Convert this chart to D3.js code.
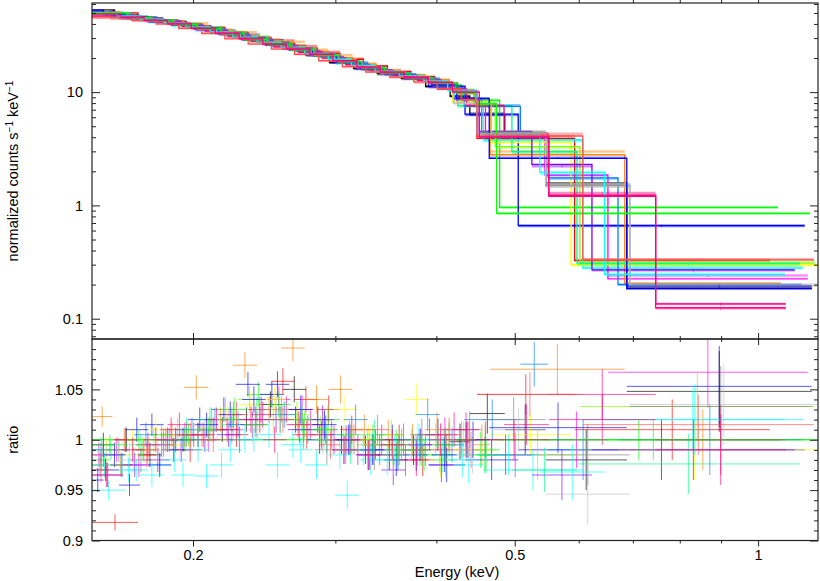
<!DOCTYPE html>
<html>
<head>
<meta charset="utf-8">
<script src="https://cdn.jsdelivr.net/npm/d3@7"></script>
<style>
body { margin: 0; background: #fff; }
text { font-family: "Liberation Sans", Arial, sans-serif; fill: #000; }
</style>
</head>
<body>
<svg id="chart" width="820" height="581"></svg>
<script>
// one entry per spectrum: colour, bin edges (keV), folded model (counts/s/keV), data/model ratio, ratio error
const seriesColors = ["#000000", "#ff0000", "#00ff00", "#0000ff", "#00ffff", "#ff00ff", "#ffff00", "#ff8000",
  "#80ff00", "#00ff80", "#0080ff", "#8000ff", "#ff0080", "#808080", "#c0c0c0",
  "#0000ff", "#00ffff", "#00ff00", "#ff5050", "#ff0080"];

const seriesEdges = [
  [0.150,0.160,0.171,0.183,0.196,0.210,0.225,0.241,0.258,0.276,0.295,0.316,0.338,0.362,0.388,0.416,0.440,0.486,0.546,0.688,1.165],
  [0.150,0.171,0.180,0.192,0.205,0.219,0.234,0.250,0.267,0.285,0.304,0.325,0.348,0.372,0.398,0.425,0.449,0.593,1.034],
  [0.150,0.158,0.168,0.179,0.191,0.204,0.218,0.233,0.249,0.266,0.284,0.304,0.325,0.348,0.373,0.400,0.430,0.479,1.058],
  [0.150,0.162,0.172,0.184,0.197,0.211,0.226,0.242,0.259,0.277,0.297,0.318,0.341,0.365,0.391,0.434,0.505,1.142],
  [0.150,0.165,0.176,0.188,0.201,0.215,0.230,0.246,0.263,0.281,0.300,0.321,0.343,0.367,0.393,0.421,0.457,0.607,1.136],
  [0.150,0.156,0.166,0.177,0.189,0.202,0.216,0.231,0.247,0.264,0.282,0.302,0.323,0.346,0.370,0.396,0.424,0.460,0.545,0.652,1.152],
  [0.150,0.163,0.174,0.186,0.199,0.213,0.228,0.244,0.261,0.279,0.298,0.319,0.341,0.365,0.391,0.419,0.466,0.587,1.185],
  [0.150,0.159,0.170,0.182,0.195,0.209,0.224,0.240,0.257,0.275,0.294,0.315,0.337,0.361,0.387,0.415,0.445,0.466,0.684,1.067],
  [0.150,0.161,0.173,0.185,0.198,0.212,0.227,0.243,0.260,0.278,0.297,0.318,0.340,0.364,0.390,0.418,0.447,0.473,0.602,1.175],
  [0.150,0.167,0.178,0.190,0.203,0.217,0.232,0.248,0.265,0.283,0.303,0.324,0.347,0.371,0.397,0.425,0.496,0.597,1.126],
  [0.150,0.158,0.169,0.181,0.193,0.206,0.220,0.235,0.251,0.268,0.287,0.307,0.329,0.352,0.377,0.404,0.433,0.508,0.550,0.671,1.132],
  [0.150,0.164,0.175,0.187,0.200,0.214,0.229,0.245,0.262,0.280,0.299,0.320,0.342,0.366,0.392,0.420,0.452,0.525,0.623,1.110],
  [0.150,0.160,0.170,0.182,0.194,0.207,0.221,0.236,0.252,0.270,0.289,0.309,0.331,0.354,0.379,0.406,0.436,0.485,0.551,0.747,1.082],
  [0.150,0.157,0.167,0.178,0.190,0.203,0.217,0.232,0.248,0.265,0.283,0.303,0.324,0.347,0.371,0.397,0.425,0.455,0.546,0.694,1.165],
  [0.150,0.163,0.175,0.187,0.200,0.214,0.229,0.245,0.262,0.280,0.299,0.320,0.342,0.366,0.392,0.420,0.468,0.546,0.694,1.185],
  [0.150,0.155,0.165,0.176,0.188,0.201,0.215,0.230,0.246,0.263,0.281,0.301,0.322,0.345,0.369,0.395,0.424,0.465,0.688,1.165],
  [0.150,0.161,0.172,0.184,0.196,0.210,0.224,0.240,0.257,0.275,0.294,0.314,0.336,0.360,0.386,0.413,0.449,0.537,0.646,1.079],
  [0.150,0.166,0.177,0.189,0.202,0.216,0.231,0.247,0.264,0.282,0.302,0.323,0.345,0.369,0.395,0.423,0.447,0.475,1.159],
  [0.150,0.158,0.168,0.180,0.192,0.205,0.219,0.234,0.250,0.267,0.286,0.306,0.327,0.350,0.375,0.401,0.429,0.449,0.607,1.172],
  [0.150,0.163,0.174,0.186,0.199,0.213,0.228,0.244,0.261,0.279,0.298,0.319,0.341,0.365,0.391,0.419,0.452,0.551,0.747,1.082]
];

const seriesModel = [
  [53,48,45,42,38,34,30.5,27.5,24.5,21,18.2,16.2,14.6,13.2,11.2,9.2,6.3,4.3,1.57,0.185],
  [50,46,43,40,37,33.5,30,27,24.5,22,19.5,17,15.2,13.8,12,9.8,3.9,0.326],
  [52,49,46,43,40,36.5,33,29.5,26.5,24,21,18.3,16,14.5,13.2,11.5,8.5,0.96],
  [51,47,44,41,37.5,34,30.5,27.5,24,21.2,18.5,16.3,14.8,13.4,11.3,6.4,0.665],
  [50,45.5,42.5,39.5,36,33,29.5,26.5,23.8,21.5,18.8,16.5,14.8,13.5,12,8.6,3.8,0.28],
  [51,48.5,45.5,42.5,39,35.5,32,29,26,23.5,21,18.3,16,14.6,13.2,11.3,8.2,4.2,1.85,0.225],
  [51,46,43,40,36.5,33,30,27,24,21.5,19,16.6,14.9,13.5,12.2,8.2,3.6,0.30],
  [51,48,45,42,38.5,35,31.5,28.5,25.5,22.8,20.2,17.7,15.6,14.2,12.8,10.5,7.5,2.8,0.205],
  [51,46.5,43.5,40.5,37,33.5,30,27,24.2,21.6,19,16.7,15,13.6,12.2,10.2,8,3.3,0.31],
  [50,45,42,39,36,32.5,29,26,23.5,21,18.5,16.3,14.8,13.4,11.8,7.6,3.0,0.31],
  [52,48.5,45.5,42.5,39,35.5,32,28.5,25.5,23,20.5,18,15.8,14.4,13,10.8,7.5,4.0,1.75,0.20],
  [50.5,46,43,40,36.5,33,29.5,26.5,24,21.5,19,16.8,15,13.6,12.1,8.8,4.5,2.3,0.27],
  [51,47.5,44.5,41.5,38,34.5,31,28,25,22.5,20,17.5,15.5,14.1,12.7,10.6,7.6,4.2,1.23,0.135],
  [52.5,49,46,43,39.5,36,32.5,29,26,23.5,21,18.5,16.1,14.7,13.3,11.4,8.6,4.4,1.5,0.19],
  [50,46,43,40,36.5,33,29.5,26.5,24,21.5,19,16.7,15,13.6,12.2,8.0,4.3,1.55,0.195],
  [53,49,46,43,39.5,36,32.5,29,26,23.5,21,18.5,16.2,14.7,13.4,11.6,8.8,2.6,0.183],
  [50.5,47,44,41,37.5,34,30.5,27.5,24.8,22,19.5,17.2,15.3,13.9,12.5,10.4,4.3,1.97,0.245],
  [50,45.5,42.5,39.5,36,32.5,29,26,23.5,21,18.5,16.3,14.8,13.4,12,9.8,7.9,0.85],
  [47,45.5,43,40,36.5,33,29.5,26.5,24,21.5,19,16.8,15,13.6,12.3,10.6,8.6,4.1,0.33],
  [49,46,43,40,36.5,33,29.5,26.5,24,21.5,19,16.7,15,13.6,12.2,10,4.0,1.2,0.125]
];

const seriesRatio = [
  [0.995,1.0,0.985,0.99,1.005,1.01,1.02,1.035,1.05,1.02,1.0,0.99,0.985,0.99,1.005,0.998,1.026,1.01,0.98,1.048],
  [0.918,0.985,1.0,0.99,1.01,1.005,1.02,1.058,1.04,1.03,1.01,0.995,1.0,0.98,0.99,1.0,1.045,1.01],
  [0.98,0.975,0.99,1.0,1.005,1.02,1.03,1.045,1.03,1.015,1.02,1.0,0.995,0.99,0.985,1.0,0.99,1.0],
  [0.97,0.955,1.015,1.0,1.02,1.03,1.055,1.045,1.02,1.0,0.99,0.985,1.0,0.985,0.975,0.98,0.99],
  [0.95,0.97,0.975,0.965,0.964,0.99,1.0,0.975,0.99,1.005,0.945,0.98,0.99,1.0,0.985,0.975,0.97,1.02],
  [0.985,0.99,0.975,0.995,1.005,1.0,1.01,1.02,1.04,1.03,1.01,1.0,0.99,0.985,0.995,1.005,0.99,0.985,1.0,1.067],
  [0.99,1.0,1.01,0.995,1.0,1.025,1.035,1.04,1.02,1.01,1.03,1.0,0.99,1.04,0.98,0.99,1.005,0.99],
  [1.023,1.0,0.99,1.005,1.052,1.02,1.074,1.03,1.091,1.04,1.05,1.01,1.005,1.0,1.01,1.0,0.995,1.07,1.0],
  [0.975,0.985,1.0,1.01,1.005,1.03,1.04,1.02,1.025,1.01,1.0,0.995,1.005,0.99,0.985,1.0,0.99,0.985,1.033],
  [0.99,0.995,1.0,1.01,1.02,1.015,1.03,1.02,1.01,1.0,0.99,1.005,0.985,0.99,0.98,0.985,0.97,0.976],
  [0.99,0.975,1.005,1.0,1.01,1.02,1.015,1.03,1.025,1.01,1.005,1.02,0.99,1.0,1.025,0.995,1.02,1.075,0.99,1.0],
  [0.965,0.975,0.98,0.99,1.0,1.005,1.015,1.02,1.01,1.02,1.0,0.985,0.97,0.99,0.975,1.0,0.985,0.965,0.99],
  [0.985,1.0,0.995,1.01,1.005,1.02,1.0,1.025,1.03,1.015,1.0,0.99,1.0,0.98,1.005,1.01,1.0,1.015,1.045,1.0],
  [0.975,0.99,0.98,0.995,1.005,1.01,1.025,1.015,1.02,1.005,0.99,1.0,0.985,0.99,1.005,0.995,1.01,1.02,0.985,1.033],
  [0.985,0.98,0.99,1.0,1.01,1.02,1.01,1.03,1.015,1.0,0.99,0.995,0.98,0.99,1.0,0.985,1.01,0.946,1.035],
  [0.96,0.985,1.01,0.975,1.0,1.015,1.025,1.04,1.055,1.03,1.015,1.0,0.99,0.98,0.995,0.985,1.0,1.012,1.053],
  [0.975,0.97,0.965,0.98,0.99,0.975,1.0,1.005,0.995,0.975,0.985,0.99,0.98,0.995,1.0,0.98,0.985,0.968,1.02],
  [0.995,1.0,1.005,1.0,1.01,1.02,1.015,1.035,1.02,1.01,1.005,1.0,0.995,0.99,0.995,1.0,0.985,1.0],
  [0.97,0.975,0.99,1.0,1.005,1.0,1.025,1.03,1.02,1.005,0.995,1.0,1.01,0.995,0.99,1.005,1.0,1.045,1.015],
  [0.965,0.99,1.0,1.015,1.005,1.01,1.02,1.0,1.015,1.005,0.99,0.985,0.995,0.98,1.0,1.01,1.0,1.02,0.99]
];

const seriesRatioErr = [
  [0.012,0.012,0.012,0.012,0.012,0.012,0.012,0.013,0.013,0.013,0.014,0.014,0.015,0.015,0.016,0.018,0.02,0.025,0.03,0.04],
  [0.008,0.012,0.012,0.012,0.012,0.012,0.013,0.013,0.013,0.014,0.014,0.015,0.015,0.016,0.016,0.018,0.02,0.03],
  [0.01,0.01,0.01,0.011,0.011,0.012,0.012,0.012,0.013,0.013,0.014,0.014,0.015,0.015,0.016,0.017,0.018,0.02],
  [0.011,0.011,0.011,0.012,0.012,0.012,0.012,0.013,0.013,0.014,0.014,0.015,0.015,0.016,0.017,0.02,0.03],
  [0.01,0.011,0.011,0.012,0.012,0.012,0.012,0.013,0.013,0.014,0.014,0.015,0.015,0.016,0.017,0.018,0.02,0.03],
  [0.012,0.012,0.012,0.012,0.012,0.012,0.013,0.013,0.013,0.014,0.014,0.015,0.015,0.016,0.016,0.017,0.018,0.022,0.028,0.035],
  [0.012,0.012,0.012,0.012,0.012,0.012,0.013,0.013,0.013,0.014,0.014,0.015,0.015,0.016,0.017,0.018,0.02,0.03],
  [0.01,0.011,0.011,0.012,0.012,0.012,0.013,0.013,0.013,0.014,0.014,0.015,0.015,0.016,0.017,0.018,0.02,0.025,0.03],
  [0.012,0.012,0.012,0.012,0.012,0.012,0.013,0.013,0.013,0.014,0.014,0.015,0.015,0.016,0.017,0.018,0.02,0.025,0.035],
  [0.01,0.011,0.011,0.012,0.012,0.012,0.012,0.013,0.013,0.014,0.014,0.015,0.015,0.016,0.017,0.018,0.022,0.03],
  [0.012,0.012,0.012,0.012,0.012,0.012,0.013,0.013,0.013,0.014,0.014,0.015,0.015,0.016,0.016,0.017,0.02,0.022,0.03,0.035],
  [0.012,0.012,0.012,0.012,0.012,0.012,0.013,0.013,0.013,0.014,0.014,0.015,0.015,0.016,0.017,0.018,0.02,0.025,0.03],
  [0.012,0.012,0.012,0.012,0.012,0.012,0.013,0.013,0.013,0.014,0.014,0.015,0.015,0.016,0.016,0.017,0.018,0.02,0.025,0.035],
  [0.012,0.012,0.012,0.012,0.012,0.012,0.013,0.013,0.013,0.014,0.014,0.015,0.015,0.016,0.016,0.017,0.018,0.022,0.03,0.04],
  [0.012,0.012,0.012,0.012,0.012,0.012,0.013,0.013,0.013,0.014,0.014,0.015,0.015,0.016,0.017,0.018,0.022,0.03,0.04],
  [0.012,0.012,0.012,0.012,0.012,0.012,0.013,0.013,0.013,0.014,0.014,0.015,0.015,0.016,0.016,0.017,0.018,0.025,0.04],
  [0.012,0.012,0.012,0.012,0.012,0.012,0.013,0.013,0.013,0.014,0.014,0.015,0.015,0.016,0.016,0.017,0.02,0.028,0.035],
  [0.01,0.011,0.011,0.012,0.012,0.012,0.012,0.013,0.013,0.014,0.014,0.015,0.015,0.016,0.016,0.017,0.018,0.02],
  [0.012,0.012,0.012,0.012,0.012,0.012,0.013,0.013,0.013,0.014,0.014,0.015,0.015,0.016,0.016,0.017,0.018,0.022,0.03],
  [0.012,0.012,0.012,0.012,0.012,0.012,0.013,0.013,0.013,0.014,0.014,0.015,0.015,0.016,0.016,0.017,0.02,0.025,0.035]
];

// ticks
const energyLabelTicks = [0.2, 0.5, 1];
const energyMinorTicks = [0.3, 0.4, 0.6, 0.7, 0.8, 0.9];
const countsLabelTicks = [0.1, 1, 10];
const countsMinorTicks = [0.07, 0.08, 0.09, 0.2, 0.3, 0.4, 0.5, 0.6, 0.7, 0.8, 0.9,
  2, 3, 4, 5, 6, 7, 8, 9, 20, 30, 40, 50, 60];
const ratioLabelTicks = [0.9, 0.95, 1, 1.05];
const ratioMinorTicks = [0.91, 0.92, 0.93, 0.94, 0.96, 0.97, 0.98, 0.99, 1.01, 1.02, 1.03, 1.04, 1.06, 1.07, 1.08, 1.09];

seriesEdges.forEach((e, i) => {
  if (e.length - 1 !== seriesModel[i].length || seriesModel[i].length !== seriesRatio[i].length ||
      seriesRatio[i].length !== seriesRatioErr[i].length) throw new Error("length mismatch in series " + i);
});

var svg = d3.select("#chart");
var left = 92, right = 818, top1 = 3, mid = 339, bottom = 540.5;

var x = d3.scaleLog().domain([0.150, 1.186]).range([left, right]);
var yTop = d3.scaleLog().domain([0.0662, 61.2]).range([mid, top1]);
var yBot = d3.scaleLinear().domain([0.9, 1.1]).range([bottom, mid]);

svg.append("clipPath").attr("id", "clipTop").append("rect")
  .attr("x", left).attr("y", top1).attr("width", right - left).attr("height", mid - top1);
svg.append("clipPath").attr("id", "clipBot").append("rect")
  .attr("x", left).attr("y", mid).attr("width", right - left).attr("height", bottom - mid);

var gTop = svg.append("g").attr("clip-path", "url(#clipTop)");
var gBot = svg.append("g").attr("clip-path", "url(#clipBot)");

// ratio = 1 reference line
gBot.append("line")
  .attr("x1", left).attr("x2", right).attr("y1", yBot(1)).attr("y2", yBot(1))
  .attr("stroke", "#00ff00").attr("stroke-width", 1);

seriesEdges.forEach(function(edges, i) {
  var col = seriesColors[i];
  var model = seriesModel[i], ratio = seriesRatio[i], err = seriesRatioErr[i];
  var bins = model.map((m, j) => ({lo: edges[j], hi: edges[j + 1], m: m, r: ratio[j], s: err[j]}));

  // data crosses in the upper panel (data = model * ratio)
  var dt = gTop.append("g").attr("stroke", col).attr("stroke-opacity", 0.45);
  dt.selectAll("line.h").data(bins).enter().append("line")
    .attr("x1", d => x(d.lo)).attr("x2", d => x(d.hi))
    .attr("y1", d => yTop(d.m * d.r)).attr("y2", d => yTop(d.m * d.r))
    .attr("stroke-width", 2.5);
  dt.selectAll("line.v").data(bins).enter().append("line")
    .attr("x1", d => x(Math.sqrt(d.lo * d.hi))).attr("x2", d => x(Math.sqrt(d.lo * d.hi)))
    .attr("y1", d => yTop(d.m * (d.r - d.s))).attr("y2", d => yTop(d.m * (d.r + d.s)))
    .attr("stroke-width", 1);

  // folded model as a step line
  var p = d3.path();
  bins.forEach(function(d, j) {
    if (j === 0) p.moveTo(x(d.lo), yTop(d.m));
    else p.lineTo(x(d.lo), yTop(d.m));
    p.lineTo(x(d.hi), yTop(d.m));
  });
  gTop.append("path").attr("d", p.toString())
    .attr("fill", "none").attr("stroke", col).attr("stroke-width", 1.3);

  // ratio crosses
  var rb = gBot.append("g").attr("stroke", col).attr("stroke-opacity", 0.65).attr("stroke-width", 1);
  rb.selectAll("line.h").data(bins).enter().append("line")
    .attr("x1", d => x(d.lo)).attr("x2", d => x(d.hi))
    .attr("y1", d => yBot(d.r)).attr("y2", d => yBot(d.r));
  rb.selectAll("line.v").data(bins).enter().append("line")
    .attr("x1", d => x(Math.sqrt(d.lo * d.hi))).attr("x2", d => x(Math.sqrt(d.lo * d.hi)))
    .attr("y1", d => yBot(d.r - d.s)).attr("y2", d => yBot(d.r + d.s));
});

// frames
svg.append("rect").attr("x", left).attr("y", top1).attr("width", right - left).attr("height", mid - top1)
  .attr("fill", "none").attr("stroke", "#222").attr("stroke-width", 1.2);
svg.append("rect").attr("x", left).attr("y", mid).attr("width", right - left).attr("height", bottom - mid)
  .attr("fill", "none").attr("stroke", "#222").attr("stroke-width", 1.2);

function inner(axis, g, ticks, len, fmt) {
  var a = axis.tickValues(ticks).tickSizeInner(-len).tickSizeOuter(0).tickPadding(9)
    .tickFormat(fmt || "");
  g.call(a);
  g.select(".domain").remove();
  g.selectAll(".tick line").attr("stroke", "#222").attr("stroke-width", 1);
  g.selectAll("text").style("font-size", "14.5px").style("font-family", '"Liberation Sans", Arial, sans-serif')
    .attr("fill", "#000");
}

var fmtE = d => d === 1 ? "1" : String(d);
// energy ticks on each horizontal edge, pointing into the panel
[[top1, -1], [mid, 1], [mid, -1], [bottom, 1]].forEach(function(t) {
  var edgeY = t[0];
  var axisFn = t[1] > 0 ? d3.axisTop : d3.axisBottom;
  var gMaj = svg.append("g").attr("transform", "translate(0," + edgeY + ")");
  var gMin = svg.append("g").attr("transform", "translate(0," + edgeY + ")");
  inner(axisFn(x), gMaj, energyLabelTicks, 6);
  inner(axisFn(x), gMin, energyMinorTicks, 3);
});

// labels under the lower panel
var gLab = svg.append("g").attr("transform", "translate(0," + bottom + ")");
gLab.call(d3.axisBottom(x).tickValues(energyLabelTicks).tickSize(0).tickPadding(9).tickFormat(fmtE));
gLab.select(".domain").remove();
gLab.selectAll("text").style("font-size", "14.5px").style("font-family", '"Liberation Sans", Arial, sans-serif').attr("fill", "#000");

// y axes, top panel
var gl1 = svg.append("g").attr("transform", "translate(" + left + ",0)");
inner(d3.axisLeft(yTop), gl1, countsLabelTicks, 8, d => d < 1 ? String(d) : d3.format("d")(d));
var gl1m = svg.append("g").attr("transform", "translate(" + left + ",0)");
inner(d3.axisLeft(yTop), gl1m, countsMinorTicks, 4);
var gr1 = svg.append("g").attr("transform", "translate(" + right + ",0)");
inner(d3.axisRight(yTop), gr1, countsLabelTicks, 8);
var gr1m = svg.append("g").attr("transform", "translate(" + right + ",0)");
inner(d3.axisRight(yTop), gr1m, countsMinorTicks, 4);

// y axes, ratio panel
var gl2 = svg.append("g").attr("transform", "translate(" + left + ",0)");
inner(d3.axisLeft(yBot), gl2, ratioLabelTicks, 8, d => String(d));
var gl2m = svg.append("g").attr("transform", "translate(" + left + ",0)");
inner(d3.axisLeft(yBot), gl2m, ratioMinorTicks, 4);
var gr2 = svg.append("g").attr("transform", "translate(" + right + ",0)");
inner(d3.axisRight(yBot), gr2, ratioLabelTicks, 8);
var gr2m = svg.append("g").attr("transform", "translate(" + right + ",0)");
inner(d3.axisRight(yBot), gr2m, ratioMinorTicks, 4);

// axis titles
var yt = svg.append("text").attr("transform", "translate(18," + ((top1 + mid) / 2) + ") rotate(-90)")
  .attr("text-anchor", "middle").style("font-size", "14.5px");
yt.append("tspan").text("normalized counts s");
yt.append("tspan").attr("dy", -5).style("font-size", "10px").text("\u22121");
yt.append("tspan").attr("dy", 5).text(" keV");
yt.append("tspan").attr("dy", -5).style("font-size", "10px").text("\u22121");

svg.append("text").attr("transform", "translate(18," + ((mid + bottom) / 2) + ") rotate(-90)")
  .attr("text-anchor", "middle").style("font-size", "14.5px").text("ratio");

svg.append("text").attr("x", x(Math.sqrt(0.3 * 0.6))).attr("y", 577)
  .attr("text-anchor", "middle").style("font-size", "14.5px").text("Energy (keV)");
</script>
</body>
</html>
